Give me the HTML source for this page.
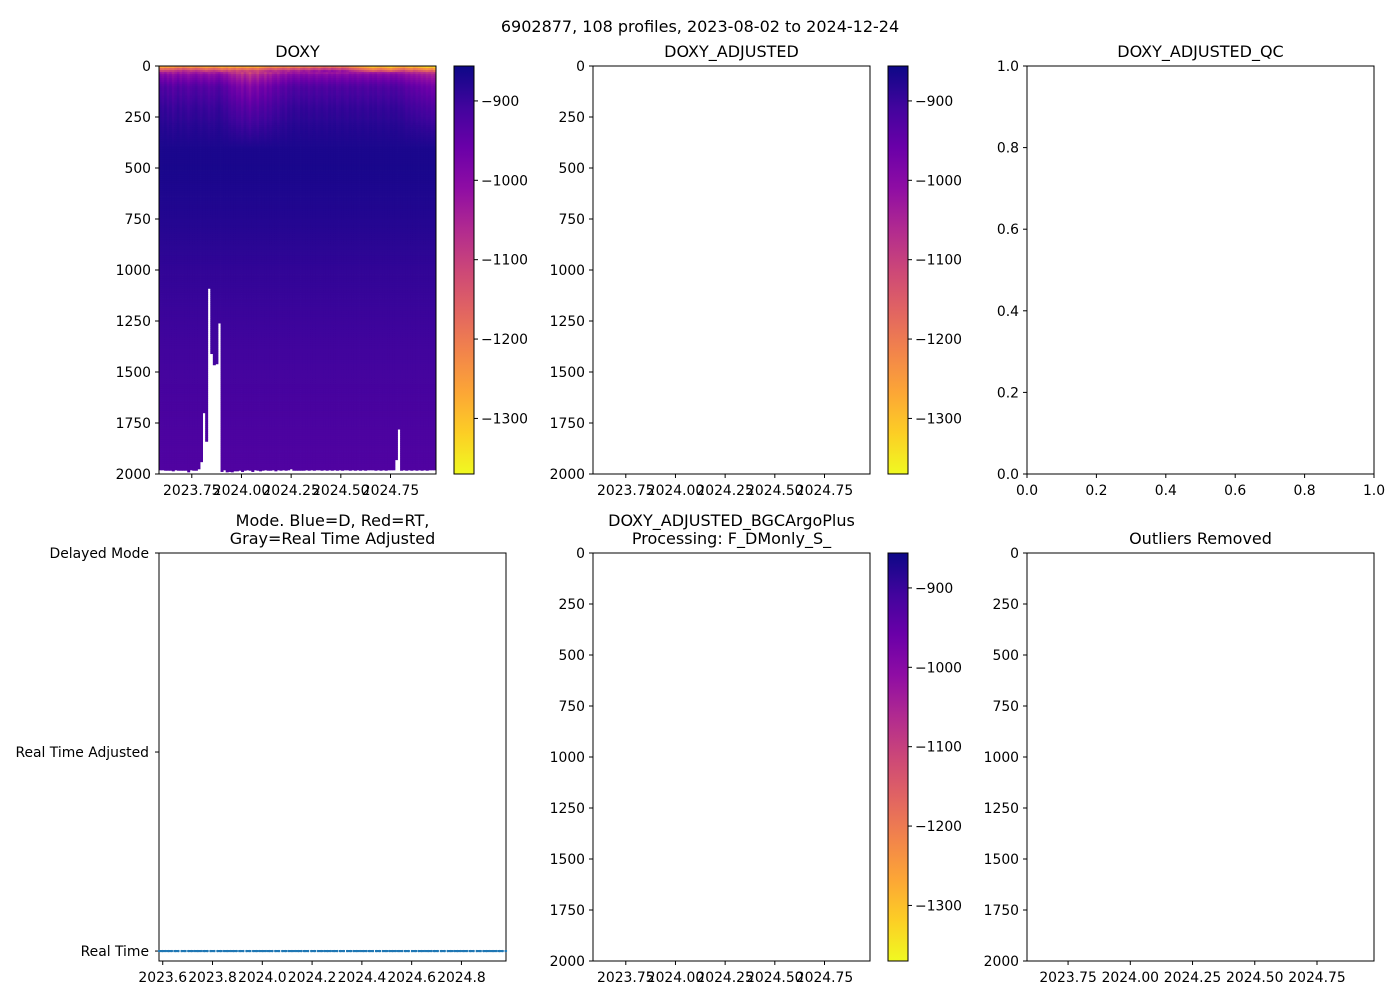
<!DOCTYPE html>
<html><head><meta charset="utf-8"><style>
body{margin:0;background:#fff}
svg{display:block;font-family:"DejaVu Sans","Liberation Sans",sans-serif}
</style></head><body>
<svg id="fig" width="1400" height="1000" viewBox="0 0 1400 1000" xmlns="http://www.w3.org/2000/svg">
<rect width="1400" height="1000" fill="#fff"/>
<text x="700" y="32" font-size="16" text-anchor="middle">6902877, 108 profiles, 2023-08-02 to 2024-12-24</text>
<g id="root"></g>
</svg>
<script>
// ---- data ----
const timeStart = 2023.585, timeEnd = 2024.979, nProfiles = 108;
const depthLevels = [0,10,20,40,100,200,300,400,500,750,1000,1250,1500,1750,2000];
const meanProfile = [-1260,-1200,-1100,-990,-920,-892,-878,-870,-868,-878,-892,-903,-912,-920,-927];
// upper-layer anomaly per profile (positive = lighter, magenta)
const upperAnomaly = [0,10,0,15,5,20,10,0,15,5,10,20,10,5,0,10,15,5,10,20,10,15,5,0,10,20,15,30,40,35,50,45,60,40,55,70,50,45,60,40,35,50,30,40,25,20,30,15,10,20,5,10,0,5,10,0,5,0,10,5,0,10,5,0,5,10,0,5,0,10,5,0,5,10,0,5,0,10,5,0,5,10,0,5,0,10,5,0,5,10,0,5,0,10,5,10,20,15,25,20,30,25,35,30,40,35,45,40];
const surfaceShift = [20,25,15,20,10,15,0,-10,0,-20,-10,0,10,0,-10,0,10,20,30,20,10,0,10,20,40,30,20,40,30,20,40,30,20,30,40,30,20,30,40,20,10,0,-10,-20,-10,0,-10,-20,-30,-20,-10,-30,-40,-30,-20,-40,-50,-40,-30,-50,-60,-50,-40,-60,-70,-60,-50,-70,-60,-50,-40,-60,-50,-40,-20,-10,0,10,20,30,40,50,60,70,60,50,40,50,60,70,80,60,50,40,30,20,40,50,60,40,50,60,70,80,90,80,70,100];
const maxDepth = [1980,1980,1982,1982,1982,1985,1980,1982,1982,1982,1982,1990,1980,1982,1982,1975,1940,1700,1840,1090,1410,1465,1460,1260,1988,1980,1990,1988,1990,1985,1985,1982,1988,1982,1980,1982,1988,1980,1982,1985,1982,1980,1982,1982,1980,1985,1980,1982,1980,1982,1980,1975,1982,1982,1982,1982,1982,1980,1982,1980,1982,1980,1980,1982,1980,1982,1980,1982,1980,1982,1980,1982,1980,1980,1982,1980,1982,1980,1982,1980,1982,1980,1980,1980,1982,1980,1982,1980,1982,1980,1980,1980,1930,1780,1982,1980,1982,1980,1982,1980,1982,1980,1982,1980,1982,1980,1980,1980];
const yTicks = [0,250,500,750,1000,1250,1500,1750,2000];
const timeTicks = [2023.75,2024.0,2024.25,2024.5,2024.75];
const timeTickLabels = ["2023.75","2024.00","2024.25","2024.50","2024.75"];
const modeTicks = [2023.6,2023.8,2024.0,2024.2,2024.4,2024.6,2024.8];
const modeTickLabels = ["2023.6","2023.8","2024.0","2024.2","2024.4","2024.6","2024.8"];
const cbTicks = [-900,-1000,-1100,-1200,-1300];
const qcTicks = [0,0.2,0.4,0.6,0.8,1.0];
const qcTickLabels = ["0.0","0.2","0.4","0.6","0.8","1.0"];
const vmin = -1370, vmax = -856;

const FS = 13.9;
const NS="http://www.w3.org/2000/svg";
const root=document.getElementById('root');
function mk(tag,attrs,parent){const e=document.createElementNS(NS,tag);for(const k in attrs)e.setAttribute(k,attrs[k]);(parent||root).appendChild(e);return e;}
const plasma=["#0d0887","#41049d","#6a00a8","#8f0da4","#b12a90","#cc4778","#e16462","#f2844b","#fca636","#fcce25","#f0f921"];
function hex(h){return [1,3,5].map(i=>parseInt(h.substr(i,2),16));}
function cmap(t){t=Math.max(0,Math.min(1,t));const s=t*10,i=Math.min(9,Math.floor(s)),f=s-i;const a=hex(plasma[i]),b=hex(plasma[i+1]);return `rgb(${a.map((v,k)=>Math.round(v+(b[k]-v)*f)).join(',')})`;}
function valColor(v){return cmap((vmax-v)/(vmax-vmin));}
function interp(xs,ys,x){for(let i=0;i<xs.length-1;i++){if(x<=xs[i+1]){const f=(x-xs[i])/(xs[i+1]-xs[i]);return ys[i]+(ys[i+1]-ys[i])*f;}}return ys[ys.length-1];}

function frame(x0,y0,w,h,name){const g=mk('rect',{x:x0,y:y0,width:w,height:h,fill:'none',stroke:'#000','stroke-width':1});}
function title(x,y,txt,name){const t=mk('text',{x:x,y:y,'font-size':16,'text-anchor':'middle'});t.textContent=txt;}
function yAxisDepth(x0,y0,h,name){yTicks.forEach(v=>{const y=y0+v/2000*h;mk('line',{x1:x0-4,x2:x0,y1:y,y2:y,stroke:'#000'});const t=mk('text',{x:x0-8,y:y+5,'font-size':FS,'text-anchor':'end'});t.textContent=v;});}
function xAxisTime(x0,y0,w,name,ticks,labels){ticks.forEach((v,i)=>{const x=x0+(v-timeStart)/(timeEnd-timeStart)*w;mk('line',{x1:x,x2:x,y1:y0,y2:y0+4,stroke:'#000'});const t=mk('text',{x:x,y:y0+21,'font-size':FS,'text-anchor':'middle'});t.textContent=labels[i];});}
function colorbar(x0,y0,w,h,name){
  const gid='cbg'+name;const defs=mk('defs',{});const lg=mk('linearGradient',{id:gid,x1:0,y1:0,x2:0,y2:1},defs);
  for(let i=0;i<=10;i++)mk('stop',{offset:i/10,'stop-color':cmap(i/10)},lg);
  const r=mk('rect',{x:x0,y:y0,width:w,height:h,fill:`url(#${gid})`,stroke:'#000'});
  cbTicks.forEach(v=>{const y=y0+(vmax-v)/(vmax-vmin)*h;mk('line',{x1:x0+w,x2:x0+w+4,y1:y,y2:y,stroke:'#000'});const t=mk('text',{x:x0+w+7,y:y+5,'font-size':FS});t.textContent='\u2212'+Math.abs(v);});
}

// ---- Panel 1: DOXY heatmap ----
(function(){
  const x0=159,y0=66,w=277,h=408;
  const g=mk('g',{});
  const cw=w/nProfiles;
  const steps=[];for(let d=0;d<=2000;d+=10)steps.push(d);
  for(let p=0;p<nProfiles;p++){
    const x=x0+p*cw;
    for(let k=0;k<steps.length-1;k++){
      const d=steps[k];if(d>=maxDepth[p])break;
      let v=interp(depthLevels,meanProfile,d+5);
      if(d<30)v-=surfaceShift[p];
      else if(d<400)v-=upperAnomaly[p]*(1-(d-30)/370)*1.5;
      const d2=Math.min(steps[k+1],maxDepth[p]);
      mk('rect',{x:x.toFixed(2),y:(y0+d/2000*h).toFixed(2),width:(cw+0.4).toFixed(2),height:((d2-d)/2000*h+0.4).toFixed(2),fill:valColor(v)},g);
    }
  }
  frame(x0,y0,w,h,'doxy');title(x0+w/2,57,'DOXY','doxy-title');
  yAxisDepth(x0,y0,h,'doxy');xAxisTime(x0,y0+h,w,'doxy',timeTicks,timeTickLabels);
  colorbar(454,66,20,408,'doxy-colorbar');
})();
// ---- Panel 2 ----
(function(){const x0=593,y0=66,w=277,h=408;frame(x0,y0,w,h,'doxy-adjusted');title(x0+w/2,57,'DOXY_ADJUSTED','doxy-adjusted-title');yAxisDepth(x0,y0,h,'doxy-adjusted');xAxisTime(x0,y0+h,w,'doxy-adjusted',timeTicks,timeTickLabels);colorbar(888,66,20,408,'doxy-adjusted-colorbar');})();
// ---- Panel 3 QC ----
(function(){const x0=1027,y0=66,w=347,h=408;frame(x0,y0,w,h,'qc');title(x0+w/2,57,'DOXY_ADJUSTED_QC','qc-title');
  qcTicks.forEach((v,i)=>{const x=x0+v*w,y=y0+h-v*h;mk('line',{x1:x,x2:x,y1:y0+h,y2:y0+h+4,stroke:'#000'});mk('line',{x1:x0-4,x2:x0,y1:y,y2:y,stroke:'#000'});
    let t=mk('text',{x:x,y:y0+h+21,'font-size':FS,'text-anchor':'middle'});t.textContent=qcTickLabels[i];
    t=mk('text',{x:x0-8,y:y+5,'font-size':FS,'text-anchor':'end'});t.textContent=qcTickLabels[i];});})();
// ---- Panel 4 Mode ----
(function(){const x0=159,y0=553,w=347,h=408;frame(x0,y0,w,h,'mode');
  title(x0+w/2,526,'Mode. Blue=D, Red=RT,','mode-title-1');title(x0+w/2,544,'Gray=Real Time Adjusted','mode-title-2');
  const yMin=-0.05,yMax=2.0;const ys=v=>y0+h-(v-yMin)/(yMax-yMin)*h;
  [['Real Time',0],['Real Time Adjusted',1],['Delayed Mode',2]].forEach(([l,v])=>{const y=ys(v);mk('line',{x1:x0-4,x2:x0,y1:y,y2:y,stroke:'#000'});const t=mk('text',{x:x0-10,y:y+5,'font-size':FS,'text-anchor':'end'});t.textContent=l;});
  const g=mk('g',{});
  mk('line',{x1:x0,x2:x0+w,y1:ys(0),y2:ys(0),stroke:'#1f77b4','stroke-width':2.2,'stroke-dasharray':'6,1.2'},g);
  for(let p=0;p<nProfiles;p++){const t=timeStart+(timeEnd-timeStart)*p/(nProfiles-1);const x=x0+(t-timeStart)/(timeEnd-timeStart)*w;
    mk('circle',{cx:x,cy:ys(0),r:1.2,fill:'#1f77b4'},g);}
  xAxisTime(x0,y0+h,w,'mode',modeTicks,modeTickLabels);})();
// ---- Panel 5 ----
(function(){const x0=593,y0=553,w=277,h=408;frame(x0,y0,w,h,'bgc');title(x0+w/2,526,'DOXY_ADJUSTED_BGCArgoPlus','bgc-title-1');title(x0+w/2,544,'Processing: F_DMonly_S_','bgc-title-2');yAxisDepth(x0,y0,h,'bgc');xAxisTime(x0,y0+h,w,'bgc',timeTicks,timeTickLabels);colorbar(888,553,20,408,'bgc-colorbar');})();
// ---- Panel 6 ----
(function(){const x0=1027,y0=553,w=347,h=408;frame(x0,y0,w,h,'outliers');title(x0+w/2,544,'Outliers Removed','outliers-title');yAxisDepth(x0,y0,h,'outliers');xAxisTime(x0,y0+h,w,'outliers',timeTicks,timeTickLabels);})();
</script>
</body></html>
